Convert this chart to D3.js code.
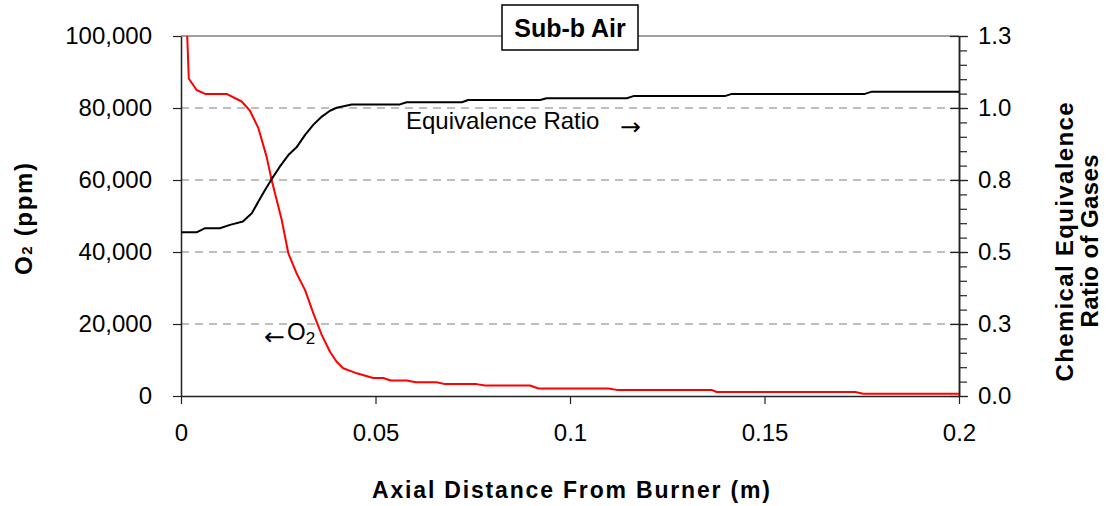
<!DOCTYPE html>
<html><head><meta charset="utf-8">
<script src="https://cdn.jsdelivr.net/npm/d3@7"></script>
<style>
body{margin:0;background:#fff}
svg{display:block}
text{font-family:"Liberation Sans",Arial,sans-serif;fill:#000}
</style>
</head><body>
<svg id="c" width="1110" height="506"></svg>
<script>
// ---- data ----
const o2X = [0.0016,0.002,0.004,0.0062,0.0117,0.0156,0.0177,0.0199,0.022,0.0233,0.0259,0.0276,0.0297,0.0319,0.034,0.0362,0.0383,0.04,0.0417,0.0452,0.0494,0.052,0.0539,0.058,0.0604,0.0657,0.0679,0.076,0.0781,0.0897,0.0919,0.1099,0.112,0.1364,0.1377,0.1733,0.1754,0.2];
const o2Ppm = [100000,88200,85000,83900,83900,81800,79300,74400,66500,60000,48900,39600,34100,29400,23000,16900,12300,9500,7700,6300,5000,5000,4300,4300,3800,3800,3300,3300,2900,2900,2100,2100,1700,1700,1100,1100,650,650];
const ratioX = [0,0.004,0.0062,0.01,0.0126,0.0159,0.0182,0.0199,0.0216,0.0233,0.0254,0.0276,0.0297,0.0319,0.034,0.0362,0.0383,0.04,0.0439,0.0563,0.058,0.0722,0.0738,0.0923,0.094,0.1146,0.1163,0.1398,0.1416,0.1758,0.1776,0.2];
const ratioVals = [0.591,0.591,0.606,0.606,0.618,0.630,0.660,0.702,0.744,0.783,0.828,0.870,0.898,0.943,0.979,1.009,1.030,1.041,1.053,1.053,1.061,1.061,1.069,1.069,1.075,1.075,1.083,1.083,1.091,1.091,1.099,1.099];
const xTicks = [0,0.05,0.1,0.15,0.2];
const xTickLabels = ["0","0.05","0.1","0.15","0.2"];
const o2Ticks = [0,20000,40000,60000,80000,100000];
const o2TickLabels = ["0","20,000","40,000","60,000","80,000","100,000"];
const ratioTicks = [0,0.26,0.52,0.78,1.04,1.3];
const ratioTickLabels = ["0.0","0.3","0.5","0.8","1.0","1.3"];
const ratioMinorStep = 0.052;
const chartTitle = "Sub-b Air";
const xTitle = "Axial Distance From Burner (m)";
const rightTitle = ["Chemical Equivalence","Ratio of Gases"];

// ---- layout ----
const L=181, R=959, T=36, B=396;
const svg = d3.select("#c");
const x = d3.scaleLinear().domain([0,0.2]).range([L,R]);
const yL = d3.scaleLinear().domain([0,100000]).range([B,T]);
const yR = d3.scaleLinear().domain([0,1.3]).range([B,T]);

svg.append("defs").append("clipPath").attr("id","clip")
  .append("rect").attr("x",L).attr("y",T).attr("width",R-L).attr("height",B-T);

// grid
svg.append("g").selectAll("line").data(o2Ticks.filter(d=>d>0&&d<100000)).join("line")
  .attr("x1",L).attr("x2",R).attr("y1",d=>yL(d)).attr("y2",d=>yL(d))
  .attr("stroke","#7f7f7f").attr("stroke-width",1).attr("stroke-dasharray","8,6");
// top border
svg.append("line").attr("x1",L).attr("x2",R).attr("y1",T).attr("y2",T)
  .attr("stroke","#a0a0a0").attr("stroke-width",2);

// axes
const axisColor="#222";
const tickFont=24;
function styleAxis(g){
  g.select(".domain").attr("stroke",axisColor).attr("stroke-width",1.5);
  g.selectAll(".tick line").attr("stroke",axisColor).attr("stroke-width",1.2);
  g.selectAll("text").attr("font-size",tickFont).attr("font-family","'Liberation Sans',Arial,sans-serif").attr("fill","#000");
}
svg.append("g").attr("transform",`translate(${L},0)`)
  .call(d3.axisLeft(yL).tickValues(o2Ticks).tickFormat((d,i)=>o2TickLabels[i]).tickSize(8).tickSizeOuter(0).tickPadding(21))
  .call(styleAxis);
svg.append("g").attr("transform",`translate(0,${B})`)
  .call(d3.axisBottom(x).tickValues(xTicks).tickFormat((d,i)=>xTickLabels[i]).tickSize(8).tickSizeOuter(0).tickPadding(20))
  .call(styleAxis);
// right minor ticks
svg.append("g").attr("transform",`translate(${R},0)`)
  .call(d3.axisRight(yR).tickValues(d3.range(0,1.3+1e-9,ratioMinorStep)).tickFormat("").tickSize(8).tickSizeOuter(0))
  .call(styleAxis);
// right major ticks
const gr = svg.append("g").attr("transform",`translate(${R},0)`)
  .call(d3.axisRight(yR).tickValues(ratioTicks).tickFormat((d,i)=>ratioTickLabels[i]).tickSize(9).tickSizeOuter(0).tickPadding(10))
  .call(styleAxis);
gr.selectAll(".tick").append("line").attr("x1",-9).attr("x2",0).attr("stroke",axisColor).attr("stroke-width",1.2);

// lines
const plot = svg.append("g").attr("clip-path","url(#clip)");
plot.append("path").datum(o2X.map((d,i)=>[d,o2Ppm[i]]))
  .attr("fill","none").attr("stroke","#ff0000").attr("stroke-width",2).attr("stroke-linejoin","round")
  .attr("d",d3.line().x(d=>x(d[0])).y(d=>yL(d[1])));
plot.append("path").datum(ratioX.map((d,i)=>[d,ratioVals[i]]))
  .attr("fill","none").attr("stroke","#000").attr("stroke-width",2).attr("stroke-linejoin","round")
  .attr("d",d3.line().x(d=>x(d[0])).y(d=>yR(d[1])));

// annotations
svg.append("text").attr("x",406).attr("y",129).attr("font-size",24).text("Equivalence Ratio");
svg.append("text").attr("x",620).attr("y",135).attr("font-size",24)
  .attr("textLength",21).attr("lengthAdjust","spacingAndGlyphs")
  .style("font-family","'DejaVu Sans',sans-serif").text("\u2192");
svg.append("text").attr("x",264).attr("y",345).attr("font-size",24)
  .attr("textLength",21).attr("lengthAdjust","spacingAndGlyphs")
  .style("font-family","'DejaVu Sans',sans-serif").text("\u2190");
const o2t = svg.append("text").attr("x",287).attr("y",340).attr("font-size",24);
o2t.append("tspan").text("O");
o2t.append("tspan").attr("font-size",17).attr("dy",4).text("2");

// title box
svg.append("rect").attr("x",502).attr("y",5).attr("width",136).attr("height",45)
  .attr("fill","#fff").attr("stroke","#000").attr("stroke-width",1.5);
svg.append("text").attr("x",570).attr("y",37).attr("text-anchor","middle")
  .attr("font-size",25).attr("font-weight","bold").text(chartTitle);

// axis titles
svg.append("text").attr("x",571).attr("y",498).attr("text-anchor","middle")
  .attr("font-size",23).attr("font-weight","bold")
  .attr("textLength",398).attr("lengthAdjust","spacing").text(xTitle);
const lt = svg.append("text").attr("transform","translate(32,219) rotate(-90)")
  .attr("text-anchor","middle").attr("font-size",24).attr("font-weight","bold")
  .attr("textLength",112).attr("lengthAdjust","spacing");
lt.append("tspan").text("O");
lt.append("tspan").attr("font-size",15).text("2");
lt.append("tspan").text(" (ppm)");
svg.append("text").attr("transform","translate(1073,242) rotate(-90)")
  .attr("text-anchor","middle").attr("font-size",24).attr("font-weight","bold")
  .attr("textLength",279).attr("lengthAdjust","spacing").text(rightTitle[0]);
svg.append("text").attr("transform","translate(1098,241) rotate(-90)")
  .attr("text-anchor","middle").attr("font-size",24).attr("font-weight","bold")
  .attr("textLength",173).attr("lengthAdjust","spacing").text(rightTitle[1]);
</script>
</body></html>
